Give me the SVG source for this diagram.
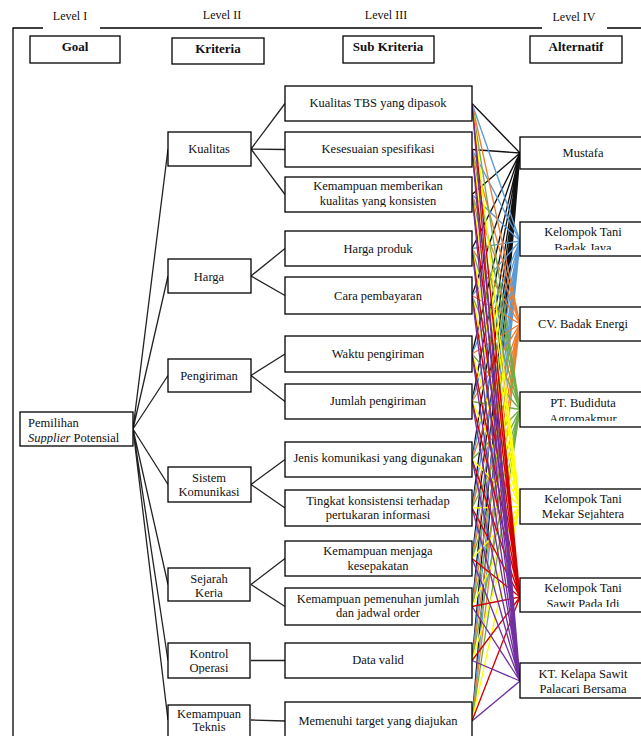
<svg xmlns="http://www.w3.org/2000/svg" width="641" height="736" viewBox="0 0 641 736">
<style>
.bx{fill:#fff;stroke:#000;stroke-width:1.3}
.t{font-family:"Liberation Serif","Times New Roman",serif;font-size:12.5px;fill:#111;text-anchor:middle}
.lv{font-family:"Liberation Serif","Times New Roman",serif;font-size:12px;fill:#111;text-anchor:middle}
.h{font-family:"Liberation Serif","Times New Roman",serif;font-size:13px;font-weight:bold;fill:#111;text-anchor:middle}
.tree{fill:none;stroke:#222;stroke-width:1.3}
.frame{fill:none;stroke:#000;stroke-width:1.3}
.c{fill:none;stroke-width:1.35}
</style>
<defs>
<clipPath id="cpGoal"><rect x="20" y="412" width="113" height="32"/></clipPath>
<clipPath id="cpKerja"><rect x="168" y="568" width="82" height="29"/></clipPath>
<clipPath id="cpOps"><rect x="168" y="643" width="82" height="31"/></clipPath>
<clipPath id="cpS3"><rect x="285" y="177" width="187" height="30"/></clipPath>
<clipPath id="cpS10"><rect x="285" y="541" width="187" height="32"/></clipPath>
<clipPath id="cpA2"><rect x="520" y="222" width="130" height="28"/></clipPath>
<clipPath id="cpA4"><rect x="520" y="392" width="130" height="29"/></clipPath>
<clipPath id="cpA5"><rect x="520" y="489" width="130" height="31"/></clipPath>
<clipPath id="cpA6"><rect x="520" y="578" width="130" height="29"/></clipPath>
</defs>
<rect width="641" height="736" fill="#fff"/>

<g id="frame">
<path class="frame" d="M13 736V28H43M100 28H542M607 28H641"/>
<text class="lv" x="70" y="20">Level I</text>
<text class="lv" x="222" y="19">Level II</text>
<text class="lv" x="386" y="19">Level III</text>
<text class="lv" x="574" y="21">Level IV</text>
</g>

<g id="headers">
<g id="hdr-goal"><rect class="bx" x="30" y="36" width="90" height="27"/><text class="h" x="75" y="51">Goal</text></g>
<g id="hdr-kriteria"><rect class="bx" x="172" y="38" width="92" height="26"/><text class="h" x="218" y="53">Kriteria</text></g>
<g id="hdr-sub"><rect class="bx" x="343" y="36" width="91" height="27"/><text class="h" x="388" y="51">Sub Kriteria</text></g>
<g id="hdr-alt"><rect class="bx" x="530" y="36" width="92" height="27"/><text class="h" x="576" y="51">Alternatif</text></g>
</g>

<g id="connectors">
<path class="tree" d="M133 429L168 149M133 429L168 276M133 429L168 375.5M133 429L168 484.5M133 429L168 584.5M133 429L168 660.5M133 429L168 720"/>
<path class="tree" d="M251 149L285 103.5M251 149L285 149.5M251 149L285 194.5M251 276L285 248.5M251 276L285 295.5M251 375.5L285 354M251 375.5L285 401.5M251 484.5L285 459.5M251 484.5L285 508M251 584.5L285 558.5M251 584.5L285 606.5M251 660.5L285 660.5M251 720L285 721"/>
<path class="c" stroke="#111" d="M472 103.5L520 153M472 149.5L520 153M472 194.5L520 153M472 248.5L520 153M472 295.5L520 153M472 354L520 153M472 401.5L520 153M472 459.5L520 153M472 508L520 153M472 558.5L520 153M472 606.5L520 153M472 660.5L520 153M472 721L520 153"/>
<path class="c" stroke="#5b9bd5" d="M472 103.5L520 241M472 149.5L520 241M472 194.5L520 241M472 248.5L520 241M472 295.5L520 241M472 354L520 241M472 401.5L520 241M472 459.5L520 241M472 508L520 241M472 558.5L520 241M472 606.5L520 241M472 660.5L520 241M472 721L520 241"/>
<path class="c" stroke="#ed7d31" d="M472 103.5L520 324M472 149.5L520 324M472 194.5L520 324M472 248.5L520 324M472 295.5L520 324M472 354L520 324M472 401.5L520 324M472 459.5L520 324M472 508L520 324M472 558.5L520 324M472 606.5L520 324M472 660.5L520 324M472 721L520 324"/>
<path class="c" stroke="#70ad47" d="M472 103.5L520 409.5M472 149.5L520 409.5M472 194.5L520 409.5M472 248.5L520 409.5M472 295.5L520 409.5M472 354L520 409.5M472 401.5L520 409.5M472 459.5L520 409.5M472 508L520 409.5M472 558.5L520 409.5M472 606.5L520 409.5M472 660.5L520 409.5M472 721L520 409.5"/>
<path class="c" stroke="#ffff00" d="M472 103.5L520 506.5M472 149.5L520 506.5M472 194.5L520 506.5M472 248.5L520 506.5M472 295.5L520 506.5M472 354L520 506.5M472 401.5L520 506.5M472 459.5L520 506.5M472 508L520 506.5M472 558.5L520 506.5M472 606.5L520 506.5M472 660.5L520 506.5M472 721L520 506.5"/>
<path class="c" stroke="#d40000" d="M472 103.5L520 597M472 149.5L520 597M472 194.5L520 597M472 248.5L520 597M472 295.5L520 597M472 354L520 597M472 401.5L520 597M472 459.5L520 597M472 508L520 597M472 558.5L520 597M472 606.5L520 597M472 660.5L520 597M472 721L520 597"/>
<path class="c" stroke="#7030a0" d="M472 103.5L520 681M472 149.5L520 681M472 194.5L520 681M472 248.5L520 681M472 295.5L520 681M472 354L520 681M472 401.5L520 681M472 459.5L520 681M472 508L520 681M472 558.5L520 681M472 606.5L520 681M472 660.5L520 681M472 721L520 681"/>
</g>

<g id="goal">
<rect class="bx" x="20" y="412" width="113" height="34"/>
<text class="t" x="28" y="427" style="text-anchor:start">Pemilihan</text>
<text class="t" x="28" y="442" style="text-anchor:start" clip-path="url(#cpGoal)"><tspan font-style="italic">Supplier</tspan> Potensial</text>
</g>

<g id="k-kualitas"><rect class="bx" x="168" y="132" width="83" height="34"/><text class="t" x="209" y="153">Kualitas</text></g>
<g id="k-harga"><rect class="bx" x="168" y="259" width="83" height="34"/><text class="t" x="209" y="281">Harga</text></g>
<g id="k-pengiriman"><rect class="bx" x="168" y="359" width="83" height="33"/><text class="t" x="209" y="380">Pengiriman</text></g>
<g id="k-sistem"><rect class="bx" x="168" y="467" width="83" height="35"/><text class="t" x="209" y="482">Sistem</text><text class="t" x="209" y="496">Komunikasi</text></g>
<g id="k-sejarah"><rect class="bx" x="168" y="568" width="82" height="33"/><text class="t" x="209" y="583">Sejarah</text><text class="t" x="209" y="597" clip-path="url(#cpKerja)">Kerja</text></g>
<g id="k-kontrol"><rect class="bx" x="168" y="643" width="82" height="35"/><text class="t" x="209" y="658">Kontrol</text><text class="t" x="209" y="672" clip-path="url(#cpOps)">Operasi</text></g>
<g id="k-teknis"><rect class="bx" x="168" y="705" width="82" height="40"/><text class="t" x="209" y="718">Kemampuan</text><text class="t" x="209" y="731">Teknis</text></g>

<g id="s1"><rect class="bx" x="285" y="86" width="187" height="35"/><text class="t" x="378" y="107">Kualitas TBS yang dipasok</text></g>
<g id="s2"><rect class="bx" x="285" y="132" width="187" height="35"/><text class="t" x="378" y="153">Kesesuaian spesifikasi</text></g>
<g id="s3"><rect class="bx" x="285" y="177" width="187" height="35"/><text class="t" x="378" y="190">Kemampuan memberikan</text><text class="t" x="378" y="205" clip-path="url(#cpS3)">kualitas yang konsisten</text></g>
<g id="s4"><rect class="bx" x="285" y="231" width="187" height="35"/><text class="t" x="378" y="253">Harga produk</text></g>
<g id="s5"><rect class="bx" x="285" y="277" width="187" height="37"/><text class="t" x="378" y="300">Cara pembayaran</text></g>
<g id="s6"><rect class="bx" x="285" y="336" width="187" height="36"/><text class="t" x="378" y="358">Waktu pengiriman</text></g>
<g id="s7"><rect class="bx" x="285" y="384" width="187" height="35"/><text class="t" x="378" y="405">Jumlah pengiriman</text></g>
<g id="s8"><rect class="bx" x="285" y="442" width="187" height="35"/><text class="t" x="378" y="462">Jenis komunikasi yang digunakan</text></g>
<g id="s9"><rect class="bx" x="285" y="490" width="187" height="36"/><text class="t" x="378" y="505">Tingkat konsistensi terhadap</text><text class="t" x="378" y="519">pertukaran informasi</text></g>
<g id="s10"><rect class="bx" x="285" y="541" width="187" height="35"/><text class="t" x="378" y="555">Kemampuan menjaga</text><text class="t" x="378" y="570" clip-path="url(#cpS10)">kesepakatan</text></g>
<g id="s11"><rect class="bx" x="285" y="588" width="187" height="37"/><text class="t" x="378" y="603">Kemampuan pemenuhan jumlah</text><text class="t" x="378" y="617">dan jadwal order</text></g>
<g id="s12"><rect class="bx" x="285" y="643" width="187" height="35"/><text class="t" x="378" y="664">Data valid</text></g>
<g id="s13"><rect class="bx" x="285" y="702" width="187" height="45"/><text class="t" x="378" y="725">Memenuhi target yang diajukan</text></g>

<g id="a1"><rect class="bx" x="520" y="137" width="130" height="32"/><text class="t" x="583" y="157">Mustafa</text></g>
<g id="a2"><rect class="bx" x="520" y="222" width="130" height="34"/><text class="t" x="583" y="236">Kelompok Tani</text><text class="t" x="583" y="252" clip-path="url(#cpA2)">Badak Jaya</text></g>
<g id="a3"><rect class="bx" x="520" y="307" width="130" height="34"/><text class="t" x="583" y="328">CV. Badak Energi</text></g>
<g id="a4"><rect class="bx" x="520" y="392" width="130" height="35"/><text class="t" x="583" y="407">PT. Budiduta</text><text class="t" x="583" y="423" clip-path="url(#cpA4)">Agromakmur</text></g>
<g id="a5"><rect class="bx" x="520" y="489" width="130" height="35"/><text class="t" x="583" y="503">Kelompok Tani</text><text class="t" x="583" y="518" clip-path="url(#cpA5)">Mekar Sejahtera</text></g>
<g id="a6"><rect class="bx" x="520" y="578" width="130" height="34"/><text class="t" x="583" y="592">Kelompok Tani</text><text class="t" x="583" y="608" clip-path="url(#cpA6)">Sawit Pada Idi</text></g>
<g id="a7"><rect class="bx" x="520" y="663" width="130" height="35"/><text class="t" x="583" y="678">KT. Kelapa Sawit</text><text class="t" x="583" y="693">Palacari Bersama</text></g>
</svg>
